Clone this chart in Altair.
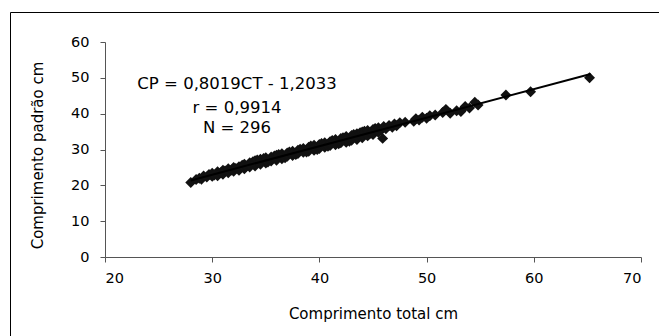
import altair as alt
import pandas as pd

# Comprimento total (CT, cm)
ct = [28.0, 28.5, 28.8, 29.0, 29.2, 29.5, 29.7, 30.0, 30.0, 30.2, 30.5, 30.5, 30.8, 31.0, 31.0,
      31.2, 31.5, 31.5, 31.8, 32.0, 32.0, 32.2, 32.5, 32.5, 32.8, 33.0, 33.0, 33.2, 33.5, 33.5,
      33.5, 33.8, 34.0, 34.0, 34.0, 34.2, 34.5, 34.5, 34.5, 34.8, 35.0, 35.0, 35.0, 35.2, 35.5,
      35.5, 35.5, 35.8, 36.0, 36.0, 36.0, 36.2, 36.5, 36.5, 36.5, 36.8, 37.0, 37.0, 37.0, 37.2,
      37.5, 37.5, 37.5, 37.8, 38.0, 38.0, 38.0, 38.2, 38.5, 38.5, 38.5, 38.8, 39.0, 39.0, 39.0,
      39.2, 39.5, 39.5, 39.5, 39.8, 40.0, 40.0, 40.0, 40.2, 40.5, 40.5, 40.5, 40.8, 41.0, 41.0,
      41.0, 41.2, 41.5, 41.5, 41.5, 41.8, 42.0, 42.0, 42.0, 42.2, 42.5, 42.5, 42.5, 42.8, 43.0,
      43.0, 43.0, 43.2, 43.5, 43.5, 43.5, 43.8, 44.0, 44.0, 44.0, 44.2, 44.5, 44.5, 44.8, 45.0,
      45.0, 45.2, 45.5, 45.5, 45.8, 45.9, 46.0, 46.2, 46.5, 46.8, 47.0, 47.2, 47.5, 48.0, 48.8,
      49.0, 49.3, 49.6, 50.0, 50.3, 50.8, 51.5, 51.8, 52.2, 52.8, 53.2, 53.6, 54.0, 54.5, 54.8,
      57.4, 59.7, 65.2]

# Comprimento padrão (CP, cm)
cp = [20.8, 21.6, 22.0, 21.7, 22.6, 22.3, 23.0, 22.5, 23.4, 22.9, 23.8, 22.7, 23.5, 24.2, 23.1,
      24.0, 24.6, 23.5, 24.3, 25.0, 23.9, 24.7, 25.2, 24.2, 25.6, 24.6, 25.9, 25.3, 26.3, 25.1,
      25.8, 26.6, 25.4, 26.9, 26.1, 27.1, 25.9, 27.3, 26.6, 27.5, 26.2, 27.7, 26.9, 26.5, 27.9,
      26.8, 27.3, 28.2, 27.0, 28.4, 27.6, 28.6, 27.4, 28.8, 28.0, 27.7, 29.0, 28.1, 28.6, 29.3,
      28.3, 29.5, 28.9, 28.6, 29.8, 28.9, 29.4, 30.1, 29.2, 30.3, 29.7, 29.3, 30.6, 29.5, 30.1,
      31.0, 29.8, 31.2, 30.4, 30.0, 31.4, 30.3, 30.9, 31.7, 30.6, 31.9, 31.2, 30.9, 32.2, 31.1,
      31.7, 32.5, 31.3, 32.8, 32.0, 31.6, 33.1, 31.9, 32.5, 33.3, 32.0, 33.6, 32.8, 32.3, 33.9,
      32.6, 33.2, 34.2, 32.8, 34.4, 33.6, 34.7, 33.3, 34.9, 34.0, 35.1, 33.8, 35.3, 34.5, 35.6,
      34.2, 35.9, 34.8, 36.1, 35.5, 33.1, 36.4, 35.8, 36.7, 36.2, 37.1, 36.6, 37.5, 37.6, 37.9,
      38.6, 38.2, 39.0, 38.7, 39.4, 39.6, 40.3, 41.2, 40.1, 40.8, 40.6, 42.0, 41.6, 43.2, 42.4,
      45.2, 46.1, 50.0]

annotation = ["CP = 0,8019CT - 1,2033", "r = 0,9914", "N = 296"]
x_ticks = [20, 30, 40, 50, 60, 70]
y_ticks = [0, 10, 20, 30, 40, 50, 60]

df = pd.DataFrame({"CT": ct, "CP": cp})

FONT = "DejaVu Sans"
W, H = 536, 215

xs = alt.Scale(domain=[20, 70], nice=False, zero=False)
ys = alt.Scale(domain=[0, 60], nice=False)

x_axis = alt.Axis(values=x_ticks, grid=False, tickSize=5, labelPadding=9,
                  labelOverlap=False,
                  labelFontSize=14.5, labelFont=FONT, labelColor="black",
                  domainColor="#555", tickColor="#555",
                  title="Comprimento total cm", titleFont=FONT, titleFontSize=15,
                  titleFontWeight="normal", titleColor="black",
                  titleY=56, titleBaseline="middle")
y_axis = alt.Axis(values=y_ticks, grid=False, tickSize=5, labelPadding=11,
                  labelOverlap=False,
                  labelFontSize=14.5, labelFont=FONT, labelColor="black",
                  domainColor="#555", tickColor="#555",
                  title="Comprimento padrão cm", titleFont=FONT, titleFontSize=15,
                  titleFontWeight="normal", titleColor="black",
                  titleX=-68, titleY=113, titleAngle=-90, titleBaseline="middle",
                  titleAlign="center")

x_enc = alt.X("CT:Q", scale=xs, axis=x_axis)
y_enc = alt.Y("CP:Q", scale=ys, axis=y_axis)

base = alt.Chart(df)

points = base.mark_point(shape="diamond", filled=True, size=120, color="#111",
                         opacity=1).encode(x=x_enc, y=y_enc)

trend = base.transform_regression("CT", "CP", extent=[28, 65.3]).mark_line(
    color="black", strokeWidth=2).encode(x=x_enc, y=y_enc)

label_df = pd.DataFrame({"k": [0]})
line_y = [42, 65.5, 86]
texts = [
    alt.Chart(label_df).mark_text(font=FONT, fontSize=16.5, color="black",
                                  align="center", baseline="middle").encode(
        x=alt.value(132), y=alt.value(yy), text=alt.value(t))
    for t, yy in zip(annotation, line_y)
]

frame = alt.Chart(label_df).mark_rect(fillOpacity=0, stroke="black",
                                      strokeWidth=1).encode(
    x=alt.value(-94.5), x2=alt.value(700), y=alt.value(-29.5), y2=alt.value(400))

chart = alt.layer(frame, points, trend, *texts).properties(
    width=W, height=H,
    padding={"left": 105, "top": 42, "right": 18, "bottom": 79},
    autosize=alt.AutoSizeParams(type="none"),
    background="white",
).configure_view(stroke=None)

chart.save("out.html", embed_options={"renderer": "svg", "actions": False})
